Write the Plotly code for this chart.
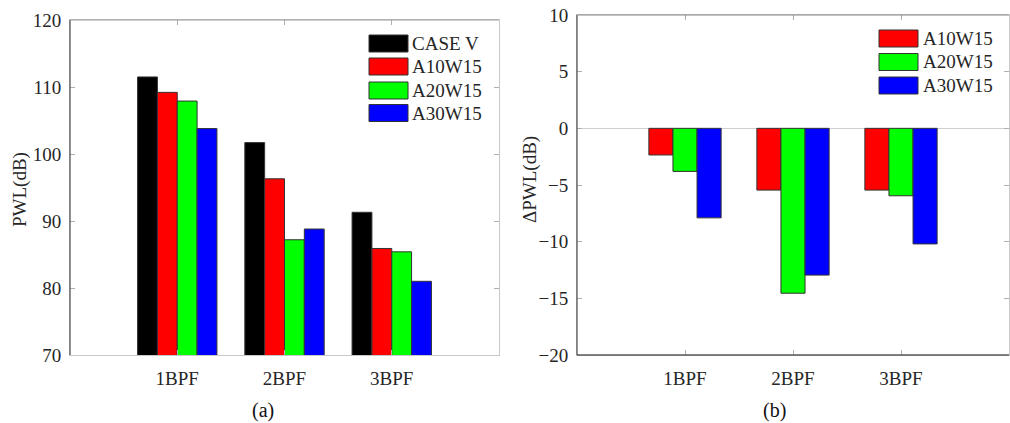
import plotly.graph_objects as go

# ---------------- data ----------------
categories = ["1BPF", "2BPF", "3BPF"]
cat_pos = [1, 2, 3]

pwl_case_v = [111.5, 101.7, 91.3]
pwl_a10w15 = [109.2, 96.3, 85.9]
pwl_a20w15 = [107.9, 87.2, 85.4]
pwl_a30w15 = [103.8, 88.8, 81.0]

dpwl_a10w15 = [-2.35, -5.45, -5.45]
dpwl_a20w15 = [-3.8, -14.55, -5.95]
dpwl_a30w15 = [-7.9, -12.95, -10.2]

left_names = ["CASE V", "A10W15", "A20W15", "A30W15"]
right_names = ["A10W15", "A20W15", "A30W15"]
left_colors = ["#000000", "#ff0000", "#00ff00", "#0000ff"]
right_colors = ["#ff0000", "#00ff00", "#0000ff"]

left_ticks = [70, 80, 90, 100, 110, 120]
right_ticks = [-20, -15, -10, -5, 0, 5, 10]

W, H = 1010, 423
FONT = "Liberation Serif"
TXT = "#262626"


def px(x):
    return x / W


def py(y):
    return 1 - y / H


fig = go.Figure()

# left panel bars
lw = 0.185
left_series = [pwl_case_v, pwl_a10w15, pwl_a20w15, pwl_a30w15]
for i, (vals, name, col) in enumerate(zip(left_series, left_names, left_colors)):
    fig.add_trace(go.Bar(
        x=cat_pos, y=vals, name=name, width=lw, offset=-2 * lw + i * lw,
        marker=dict(color=col, line=dict(color="#333333", width=1)),
        xaxis="x", yaxis="y", showlegend=False))

# right panel bars
rw = 0.223
right_series = [dpwl_a10w15, dpwl_a20w15, dpwl_a30w15]
for i, (vals, name, col) in enumerate(zip(right_series, right_names, right_colors)):
    fig.add_trace(go.Bar(
        x=cat_pos, y=vals, name=name, width=rw, offset=-1.5 * rw + i * rw,
        marker=dict(color=col, line=dict(color="#333333", width=1)),
        xaxis="x2", yaxis="y2", showlegend=False))

axis_common = dict(
    showgrid=False, showline=True, linecolor="#c8c8c8", linewidth=1,
    mirror="ticks", ticks="inside", ticklen=5, tickcolor="#b0b0b0", tickwidth=1,
    tickfont=dict(family=FONT, size=19, color=TXT), automargin=False,
)

fig.update_layout(
    template="none",
    width=W, height=H,
    margin=dict(l=0, r=0, t=0, b=0, pad=0),
    paper_bgcolor="white", plot_bgcolor="white",
    barmode="overlay", showlegend=False,
    xaxis=dict(domain=[px(70), px(499)], range=[0, 4],
               tickvals=cat_pos, ticktext=categories, anchor="y",
               ticklabelstandoff=6, zeroline=False, **axis_common),
    yaxis=dict(domain=[py(355), py(20)], range=[70, 120],
               tickvals=left_ticks, anchor="x", zeroline=False,
               ticklabelstandoff=4, **axis_common),
    xaxis2=dict(domain=[px(577), px(1009)], range=[0, 4],
                tickvals=cat_pos, ticktext=categories, anchor="y2",
                ticklabelstandoff=6, zeroline=False, **axis_common),
    yaxis2=dict(domain=[py(355), py(15)], range=[-20, 10],
                tickvals=right_ticks, anchor="x2",
                zeroline=True, zerolinecolor="#cfcfcf", zerolinewidth=1,
                ticklabelstandoff=4, **axis_common),
)

shapes = []
# darker axis lines
shapes.append(dict(type="line", xref="x domain", yref="y domain", x0=0, x1=0, y0=0, y1=1,
                   line=dict(color="#5a5a5a", width=1.3)))
shapes.append(dict(type="line", xref="x2 domain", yref="y2 domain", x0=0, x1=0, y0=0, y1=1,
                   line=dict(color="#5a5a5a", width=1.3)))
shapes.append(dict(type="line", xref="x2 domain", yref="y2 domain", x0=0, x1=1, y0=0, y1=0,
                   line=dict(color="#5a5a5a", width=1.3)))
shapes.append(dict(type="line", xref="x2 domain", yref="y2 domain", x0=0, x1=1, y0=1, y1=1,
                   line=dict(color="#8a8a8a", width=1)))
shapes.append(dict(type="line", xref="x domain", yref="y domain", x0=0, x1=1, y0=1, y1=1,
                   line=dict(color="#9a9a9a", width=1)))

annotations = []
# custom legends
left_leg_rows = [43.5, 66.5, 90.5, 113]
for name, col, yc in zip(left_names, left_colors, left_leg_rows):
    shapes.append(dict(type="rect", xref="paper", yref="paper",
                       x0=px(369), x1=px(408), y0=py(yc + 8.5), y1=py(yc - 8.5),
                       fillcolor=col, line=dict(color="#333333", width=1)))
    annotations.append(dict(x=px(410), y=py(yc), xref="paper", yref="paper",
                            text=name, showarrow=False, xanchor="left", yanchor="middle",
                            font=dict(family=FONT, size=19, color=TXT)))

right_leg_rows = [38.5, 62, 85.5]
for name, col, yc in zip(right_names, right_colors, right_leg_rows):
    shapes.append(dict(type="rect", xref="paper", yref="paper",
                       x0=px(879), x1=px(918), y0=py(yc + 8.5), y1=py(yc - 8.5),
                       fillcolor=col, line=dict(color="#333333", width=1)))
    annotations.append(dict(x=px(921), y=py(yc), xref="paper", yref="paper",
                            text=name, showarrow=False, xanchor="left", yanchor="middle",
                            font=dict(family=FONT, size=19, color=TXT)))

# axis titles
annotations.append(dict(x=px(20), y=py(190), xref="paper", yref="paper", text="PWL(dB)",
                        textangle=-90, showarrow=False, xanchor="center", yanchor="middle",
                        font=dict(family=FONT, size=19, color=TXT)))
annotations.append(dict(x=px(530), y=py(180), xref="paper", yref="paper", text="ΔPWL(dB)",
                        textangle=-90, showarrow=False, xanchor="center", yanchor="middle",
                        font=dict(family=FONT, size=19, color=TXT)))
# panel labels
annotations.append(dict(x=px(263), y=py(410), xref="paper", yref="paper", text="(a)",
                        showarrow=False, xanchor="center", yanchor="middle",
                        font=dict(family=FONT, size=20, color="#111111")))
annotations.append(dict(x=px(774), y=py(410), xref="paper", yref="paper", text="(b)",
                        showarrow=False, xanchor="center", yanchor="middle",
                        font=dict(family=FONT, size=20, color="#111111")))

fig.update_layout(shapes=shapes, annotations=annotations)

fig.write_html("out.html",
               config={"displayModeBar": False},
               post_script="document.body.style.margin='0px';"
                           "document.body.style.overflow='hidden';")
